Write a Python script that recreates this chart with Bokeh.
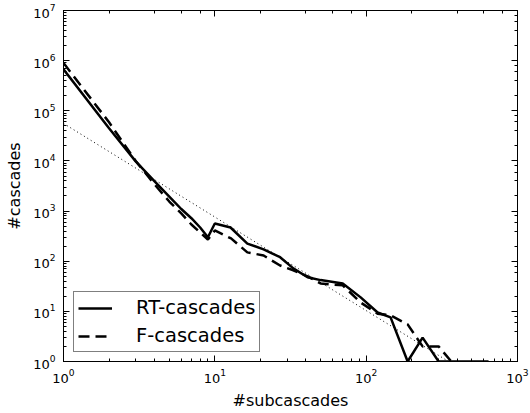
from bokeh.plotting import figure
from bokeh.models import LogAxis, Legend, LegendItem, Range1d
from bokeh.embed import file_html
from bokeh.resources import INLINE

# RT-cascades (solid)
x_rt = [1, 2, 3, 4, 5, 6, 7, 8, 9, 10, 12.7, 16.4, 21, 27, 33, 41, 50, 70, 92, 119, 145, 188, 236, 301, 644]
y_rt = [6.7e5, 4.5e4, 9.8e3, 3.9e3, 1.95e3, 1.1e3, 720, 470, 300, 565, 470, 225, 172, 120, 72, 48, 42, 36,
        19, 9.5, 7.6, 1, 3, 1, 1]

# F-cascades (dashed)
x_f = [1, 2, 3, 4, 5, 6, 7, 8, 9, 10, 12.8, 16.4, 21, 27, 33, 41, 50, 70, 92, 119, 145, 188, 236, 301, 365]
y_f = [9e5, 5.9e4, 1.0e4, 3.4e3, 1.55e3, 900, 540, 375, 270, 410, 285, 150, 130, 82, 66, 50, 36, 33,
       15, 9, 8.3, 5.5, 2, 2, 1]

# power-law fit (dotted)
x_fit = [1, 350]
y_fit = [5.6e4, 1.0]

labels = ["RT-cascades", "F-cascades"]
x_label = "#subcascades"
y_label = "#cascades"

FONT = "DejaVu Sans"

p = figure(width=530, height=413, x_axis_type="log", y_axis_type="log",
           x_range=Range1d(1, 1000), y_range=Range1d(1, 1e7),
           output_backend="svg", toolbar_location=None,
           min_border_left=63, min_border_right=13, min_border_top=10, min_border_bottom=52)

p.grid.visible = False
p.outline_line_color = "black"
p.outline_line_width = 1
p.background_fill_color = "white"
p.border_fill_color = "white"

r_fit = p.line(x_fit, y_fit, line_color="black", line_width=1, line_dash="1 3")
r_rt = p.line(x_rt, y_rt, line_color="black", line_width=2.5)
r_f = p.line(x_f, y_f, line_color="black", line_width=2.5, line_dash="11 6")

for ax in [p.xaxis[0], p.yaxis[0]]:
    ax.major_tick_in = 6
    ax.major_tick_out = 0
    ax.minor_tick_in = 3
    ax.minor_tick_out = 0
    ax.axis_line_color = "black"
    ax.major_tick_line_color = "black"
    ax.minor_tick_line_color = "black"
    ax.major_label_text_font = FONT
    ax.major_label_text_font_size = "13px"
    ax.major_label_text_color = "black"
    ax.axis_label_text_font = FONT
    ax.axis_label_text_font_size = "16px"
    ax.axis_label_text_font_style = "normal"
    ax.axis_label_text_color = "black"

p.xaxis[0].axis_label = x_label
p.yaxis[0].axis_label = y_label
p.xaxis[0].major_label_standoff = 7
p.yaxis[0].major_label_standoff = 8
p.xaxis[0].axis_label_standoff = 5
p.yaxis[0].axis_label_standoff = 6

for loc in ["above", "right"]:
    ax = LogAxis(major_tick_in=6, major_tick_out=0, minor_tick_in=3, minor_tick_out=0,
                 major_label_text_font_size="1px", major_label_text_alpha=0,
                 major_label_standoff=0,
                 axis_line_color="black", major_tick_line_color="black",
                 minor_tick_line_color="black")
    p.add_layout(ax, loc)

legend = Legend(items=[LegendItem(label=labels[0], renderers=[r_rt]),
                       LegendItem(label=labels[1], renderers=[r_f])],
                location=(10, 9))
legend.label_text_font = FONT
legend.label_text_font_size = "19.5px"
legend.label_text_color = "black"
legend.border_line_color = "black"
legend.border_line_width = 1
legend.background_fill_alpha = 1
legend.glyph_width = 34
legend.glyph_height = 20
legend.label_height = 20
legend.label_standoff = 24
legend.spacing = 5
legend.padding = 4
legend.margin = 0
p.add_layout(legend, "center")

open("out.html", "w").write(file_html(p, INLINE))
